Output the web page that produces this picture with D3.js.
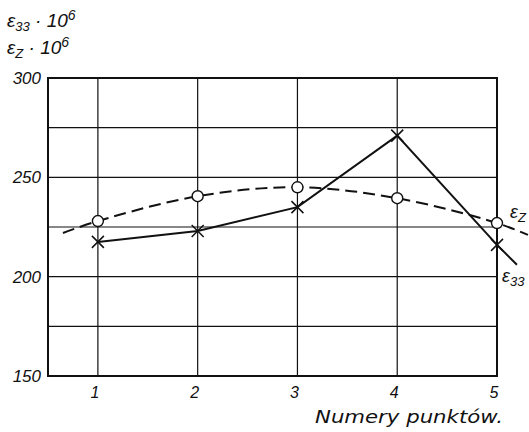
<html>
  <head>
    <meta charset="utf-8">
    <script src="https://d3js.org/d3.v7.min.js"></script>
    <style>
      body { margin: 0; background: white; }
      svg text { font-family: "Liberation Sans", sans-serif; font-style: italic; fill: #111; }
      svg text.xtitle { font-family: "DejaVu Sans", sans-serif; font-weight: 300; }
    </style>
  </head>
  <body>
    <svg width="529" height="432"></svg>
    <script>
      // data
      var points = [1, 2, 3, 4, 5];
      var epsZ = [228, 240.5, 245, 239.5, 227];
      var eps33 = [217.5, 223, 235, 271, 216];
      // where the drawn lines run past the first / last point
      var epsZStart = [0.65, 222];
      var epsZEnd = [5.31, 221];
      var eps33End = [5.2, 206];
      var yTicks = [150, 200, 250, 300];
      var yGrid = [175, 200, 225, 250, 275];

      var svg = d3.select("svg");
      var x = d3.scaleLinear().domain([0.5, 5]).range([48, 497]);
      var y = d3.scaleLinear().domain([150, 300]).range([376, 78]);

      // grid
      svg.append("g").selectAll("line").data(yGrid).enter().append("line")
        .attr("x1", x(0.5)).attr("x2", x(5))
        .attr("y1", function(d){ return y(d); }).attr("y2", function(d){ return y(d); })
        .attr("stroke", "#111").attr("stroke-width", 1.1);
      svg.append("g").selectAll("line").data(points.slice(0, 4)).enter().append("line")
        .attr("x1", function(d){ return x(d); }).attr("x2", function(d){ return x(d); })
        .attr("y1", y(150)).attr("y2", y(300))
        .attr("stroke", "#111").attr("stroke-width", 1.2);

      // frame
      svg.append("rect")
        .attr("x", x(0.5)).attr("y", y(300))
        .attr("width", x(5) - x(0.5)).attr("height", y(150) - y(300))
        .attr("fill", "none").attr("stroke", "#111").attr("stroke-width", 2);

      // y tick labels
      svg.append("g").selectAll("text").data(yTicks).enter().append("text")
        .attr("x", 41).attr("y", function(d){ return y(d) + 6; })
        .attr("text-anchor", "end").attr("font-size", 17)
        .text(function(d){ return d; });

      // x tick labels
      svg.append("g").selectAll("text").data(points).enter().append("text")
        .attr("x", function(d){ return x(d) - 3; }).attr("y", 398)
        .attr("text-anchor", "middle").attr("font-size", 16)
        .text(function(d){ return d; });

      svg.append("text").attr("class", "xtitle").attr("x", 315).attr("y", 423)
        .attr("font-size", 18).attr("textLength", 188).attr("lengthAdjust", "spacingAndGlyphs")
        .text("Numery punktów.");

      // axis title
      var t1 = svg.append("text").attr("x", 7).attr("y", 27).attr("font-size", 19);
      t1.append("tspan").text("ε");
      t1.append("tspan").attr("font-size", 13).attr("dy", 4).text("33");
      t1.append("tspan").attr("dy", -4).text(" · 10");
      t1.append("tspan").attr("font-size", 14).attr("dy", -7).text("6");
      var t2 = svg.append("text").attr("x", 7).attr("y", 54).attr("font-size", 19);
      t2.append("tspan").text("ε");
      t2.append("tspan").attr("font-size", 13).attr("dy", 4).text("Z");
      t2.append("tspan").attr("dy", -4).text(" · 10");
      t2.append("tspan").attr("font-size", 14).attr("dy", -7).text("6");

      // eps_z dashed smooth curve
      var zLine = [epsZStart].concat(points.map(function(p, i){ return [p, epsZ[i]]; })).concat([epsZEnd]);
      svg.append("path")
        .attr("d", d3.line().x(function(d){ return x(d[0]); }).y(function(d){ return y(d[1]); })
          .curve(d3.curveCatmullRom)(zLine))
        .attr("fill", "none").attr("stroke", "#111").attr("stroke-width", 2)
        .attr("stroke-dasharray", "12,6");

      // eps_33 solid polyline
      var sLine = points.map(function(p, i){ return [p, eps33[i]]; }).concat([eps33End]);
      svg.append("path")
        .attr("d", d3.line().x(function(d){ return x(d[0]); }).y(function(d){ return y(d[1]); })(sLine))
        .attr("fill", "none").attr("stroke", "#111").attr("stroke-width", 2);

      // markers
      svg.append("g").selectAll("circle").data(points).enter().append("circle")
        .attr("cx", function(d){ return x(d); })
        .attr("cy", function(d, i){ return y(epsZ[i]); })
        .attr("r", 5.5).attr("fill", "white").attr("stroke", "#111").attr("stroke-width", 1.4);

      var s = 6;
      svg.append("g").selectAll("path").data(points).enter().append("path")
        .attr("d", function(d, i){
          var cx = x(d), cy = y(eps33[i]);
          return "M" + (cx - s) + "," + (cy - s) + "L" + (cx + s) + "," + (cy + s) +
                 "M" + (cx - s) + "," + (cy + s) + "L" + (cx + s) + "," + (cy - s);
        })
        .attr("stroke", "#111").attr("stroke-width", 1.5).attr("fill", "none");

      // series labels
      var l1 = svg.append("text").attr("x", 510).attr("y", 218).attr("font-size", 18);
      l1.append("tspan").text("ε");
      l1.append("tspan").attr("font-size", 13).attr("dy", 4).text("Z");
      var l2 = svg.append("text").attr("x", 502).attr("y", 282).attr("font-size", 18);
      l2.append("tspan").text("ε");
      l2.append("tspan").attr("font-size", 13).attr("dy", 4).text("33");
    </script>
  </body>
</html>
